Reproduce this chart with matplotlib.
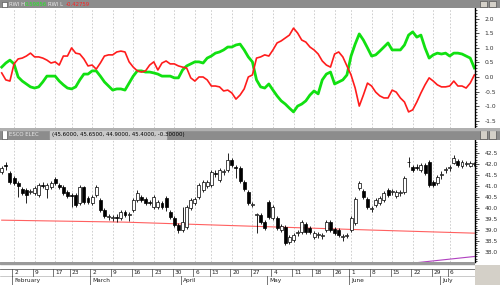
import numpy as np
import matplotlib
matplotlib.use("Agg")
from matplotlib import pyplot as plt
from matplotlib.ticker import MultipleLocator, FormatStrFormatter

# Random Walk Index, high and low
rwi_hi = [0.34, 0.48, 0.58, 0.45, 0.00, -0.14, -0.24, -0.34, -0.38, -0.34,
          -0.17, 0.03, 0.03, 0.03, -0.14, -0.27, -0.38, -0.41, -0.34, -0.10,
          0.10, 0.10, 0.21, 0.21, 0.03, -0.17, -0.31, -0.45, -0.41, -0.41,
          -0.45, -0.21, 0.03, 0.21, 0.21, 0.17, 0.17, 0.14, 0.10, 0.03,
          0.03, 0.03, -0.03, -0.03, 0.24, 0.38, 0.45, 0.52, 0.52, 0.48,
          0.65, 0.72, 0.82, 0.86, 0.93, 1.03, 1.03, 1.10, 1.13, 0.93,
          0.69, 0.52, -0.10, -0.34, -0.38, -0.24, -0.45, -0.65, -0.82, -0.93,
          -1.07, -1.20, -1.00, -0.93, -0.82, -0.62, -0.48, -0.58, -0.10, 0.10,
          0.17, -0.24, -0.17, -0.10, 0.07, 0.72, 1.13, 1.48, 1.27, 1.00,
          0.72, 0.76, 0.89, 1.03, 1.17, 0.93, 0.93, 0.93, 1.10, 1.44,
          1.55, 1.37, 1.44, 1.00, 0.65, 0.76, 0.82, 0.79, 0.82, 0.72,
          0.82, 0.82, 0.79, 0.72, 0.65, 0.31]
rwi_lo = [0.14, -0.10, -0.14, 0.45, 0.62, 0.65, 0.72, 0.82, 0.69, 0.69,
          0.65, 0.58, 0.48, 0.52, 0.41, 0.72, 0.72, 1.00, 0.82, 0.79,
          0.62, 0.38, 0.41, 0.27, 0.48, 0.72, 0.76, 0.76, 0.86, 0.89,
          0.86, 0.52, 0.34, 0.21, 0.17, 0.21, 0.41, 0.52, 0.24, 0.48,
          0.55, 0.45, 0.45, 0.38, 0.34, 0.31, -0.03, -0.14, 0.00, 0.00,
          -0.10, -0.31, -0.31, -0.34, -0.48, -0.45, -0.55, -0.76, -0.62, -0.41,
          0.00, 0.07, 0.65, 0.69, 0.76, 0.72, 0.93, 1.17, 1.24, 1.34,
          1.44, 1.68, 1.51, 1.27, 1.20, 1.03, 0.93, 0.79, 0.55, 0.41,
          0.34, 0.79, 0.86, 0.69, 0.38, 0.07, -0.38, -1.00, -0.62, -0.21,
          -0.31, -0.52, -0.65, -0.72, -0.72, -0.45, -0.52, -0.72, -0.86, -1.20,
          -1.13, -0.86, -0.55, -0.27, -0.03, -0.14, -0.27, -0.34, -0.34, -0.31,
          -0.14, -0.31, -0.31, -0.38, -0.21, 0.07]

# daily prices
opens = [41.64, 41.95, 41.59, 41.36, 41.14, 40.86, 40.82, 40.73, 40.68, 40.59,
         41.05, 40.86, 40.95, 41.32, 41.05, 40.95, 40.73, 40.59, 40.59, 40.23,
         40.95, 40.45, 40.23, 40.59, 40.36, 39.91, 39.59, 39.55, 39.59, 39.55,
         39.82, 39.68, 39.91, 40.36, 40.50, 40.41, 40.27, 40.05, 40.05, 40.23,
         40.45, 39.82, 39.55, 39.23, 39.00, 39.14, 40.00, 40.23, 40.50, 40.82,
         41.00, 41.05, 41.59, 41.27, 41.64, 41.73, 42.18, 41.86, 41.82, 41.18,
         40.73, 40.14, 39.68, 39.68, 39.36, 40.27, 39.55, 39.55, 39.00, 39.14,
         38.45, 38.55, 38.86, 38.91, 39.27, 39.09, 38.68, 38.77, 38.73, 39.00,
         39.36, 39.05, 39.00, 38.68, 38.73, 39.00, 39.32, 40.91, 40.77, 40.41,
         39.95, 40.14, 40.23, 40.36, 40.82, 40.73, 40.55, 40.68, 40.73, 42.09,
         41.86, 41.86, 41.73, 41.95, 42.09, 41.18, 41.14, 41.50, 41.73, 41.82,
         42.05, 42.14, 41.91, 42.00, 41.91, 42.00]
highs = [41.91, 42.09, 41.68, 41.45, 41.23, 40.95, 40.91, 40.86, 41.00, 41.14,
         41.18, 41.14, 41.23, 41.41, 41.14, 41.05, 40.82, 40.68, 40.68, 41.05,
         41.00, 40.55, 40.59, 41.05, 40.45, 40.00, 39.73, 39.68, 39.73, 39.91,
         39.91, 39.82, 40.45, 40.82, 40.59, 40.50, 40.36, 40.59, 40.36, 40.32,
         40.55, 39.91, 39.64, 39.32, 40.05, 40.14, 40.45, 40.50, 41.14, 41.27,
         41.27, 41.73, 41.73, 41.82, 41.77, 42.50, 42.27, 41.95, 41.91, 41.27,
         40.82, 40.27, 39.77, 39.77, 39.45, 40.36, 40.14, 39.64, 39.27, 39.23,
         38.77, 38.86, 39.00, 39.45, 39.36, 39.18, 38.95, 38.91, 38.86, 39.45,
         39.45, 39.14, 39.09, 38.82, 38.86, 39.64, 40.50, 41.23, 40.86, 40.50,
         40.09, 40.45, 40.55, 40.77, 40.91, 40.86, 40.82, 40.82, 41.45, 42.32,
         41.95, 42.00, 42.05, 42.05, 42.18, 41.27, 41.50, 41.68, 41.86, 41.95,
         42.41, 42.23, 42.18, 42.14, 42.14, 42.09]
lows = [41.55, 41.73, 41.09, 41.05, 40.50, 40.59, 40.23, 40.64, 40.59, 40.50,
        40.91, 40.45, 40.86, 41.05, 40.86, 40.59, 40.45, 40.05, 40.05, 40.14,
        40.18, 40.18, 40.14, 40.50, 39.82, 39.55, 39.45, 39.41, 39.36, 39.45,
        39.59, 39.41, 39.82, 40.27, 40.27, 40.14, 40.14, 39.95, 39.95, 39.95,
        39.86, 39.50, 39.14, 38.86, 38.91, 39.05, 39.91, 40.14, 40.41, 40.73,
        40.91, 40.95, 41.41, 41.18, 41.50, 41.64, 41.86, 41.36, 41.14, 40.77,
        40.14, 40.05, 38.86, 39.27, 39.00, 39.50, 39.45, 39.00, 38.91, 38.32,
        38.36, 38.45, 38.73, 38.82, 38.82, 38.82, 38.59, 38.64, 38.59, 38.91,
        38.91, 38.77, 38.68, 38.50, 38.64, 38.91, 39.23, 40.82, 40.41, 39.95,
        39.82, 40.05, 40.14, 40.27, 40.50, 40.59, 40.45, 40.55, 40.64, 41.86,
        41.64, 41.73, 41.64, 41.50, 40.95, 40.95, 41.05, 41.32, 41.59, 41.68,
        42.00, 41.86, 41.82, 41.91, 41.86, 41.91]
closes = [41.82, 41.91, 41.18, 41.14, 41.00, 40.68, 40.59, 40.77, 40.91, 41.05,
          41.00, 41.05, 41.14, 41.14, 40.95, 40.68, 40.55, 40.55, 40.14, 40.95,
          40.27, 40.27, 40.50, 40.95, 39.91, 39.64, 39.62, 39.57, 39.57, 39.82,
          39.68, 39.70, 40.36, 40.68, 40.36, 40.23, 40.25, 40.50, 40.27, 40.05,
          40.05, 39.59, 39.23, 39.00, 39.36, 40.05, 40.36, 40.41, 41.05, 41.18,
          41.18, 41.64, 41.55, 41.73, 41.66, 42.18, 41.95, 41.82, 41.23, 40.86,
          40.23, 40.18, 39.70, 39.36, 39.09, 39.59, 40.05, 39.09, 39.18, 38.41,
          38.68, 38.77, 38.88, 39.36, 38.91, 38.91, 38.86, 38.79, 38.75, 39.36,
          39.00, 38.86, 38.77, 38.70, 38.75, 39.55, 40.41, 41.14, 40.50, 40.05,
          39.97, 40.36, 40.45, 40.68, 40.59, 40.75, 40.73, 40.70, 41.36, 42.07,
          41.73, 41.84, 41.95, 41.59, 41.05, 41.05, 41.41, 41.52, 41.75, 41.84,
          42.27, 41.95, 42.09, 42.02, 42.05, 42.00]

# long moving average (red) and second average (purple)
ma_idx = [0, 30, 60, 90, 115]
ma_val = [39.45, 39.36, 39.18, 39.00, 38.86]
pur_idx = [101, 108, 115]
pur_val = [37.52, 37.66, 37.80]

week_pos = [3, 8, 13, 17, 22, 27, 32, 37, 42, 47, 51, 56, 61, 66, 71, 76, 81, 85, 90, 95, 100, 105, 109]
week_lab = ["2", "9", "17", "23", "2", "9", "16", "23", "30", "6", "13", "20",
            "27", "4", "11", "18", "26", "1", "8", "15", "22", "29", "6"]
month_pos = [3, 22, 44, 65, 85, 107]
month_lab = ["February", "March", "April", "May", "June", "July"]

W, H = 500, 285
XL = (-0.414, 115.16)
FS = 3.9


def box(x0, y0, x1, y1):
    return [x0 / W, 1 - y1 / H, (x1 - x0) / W, (y1 - y0) / H]


def style_right(ax, major, minor, fmt):
    for s in ["left", "top", "bottom"]:
        ax.spines[s].set_visible(False)
    ax.spines["right"].set_linewidth(1.0)
    ax.yaxis.tick_right()
    ax.yaxis.set_major_locator(MultipleLocator(major))
    ax.yaxis.set_minor_locator(MultipleLocator(minor))
    ax.yaxis.set_major_formatter(FormatStrFormatter(fmt))
    ax.tick_params(axis="y", which="major", length=3, width=0.6, labelsize=4.3, pad=4, colors="#303030")
    ax.tick_params(axis="y", which="minor", length=1.5, width=0.5)
    ax.set_xticks([])
    ax.set_xlim(*XL)
    for p in week_pos:
        ax.axvline(p, color="#c8c8c8", lw=0.6, ls=(0, (2, 2)), zorder=0)


def titlebar(y0, y1):
    tb = fig.add_axes(box(0, y0, 500, y1))
    tb.set_xlim(0, 500)
    tb.set_ylim(y1, y0)
    tb.axis("off")
    tb.add_patch(plt.Rectangle((0, y0), 500, y1 - y0, color="#8c8c8c"))
    tb.add_patch(plt.Rectangle((2, y0 + 1.5), 5, y1 - y0 - 3, fc="white", ec="#404040", lw=0.4))
    for bx in (480, 489):
        tb.add_patch(plt.Rectangle((bx, y0 + 1), 7, y1 - y0 - 2, fc="#d4d0c8", ec="#404040", lw=0.4))
    return tb


fig = plt.figure(figsize=(5, 2.85), dpi=100)
fig.patch.set_facecolor("white")

# top panel: RWI
ax1 = fig.add_axes(box(0, 8, 475, 128))
style_right(ax1, 0.5, 0.1, "%.1f")
ax1.set_ylim(-1.753, 2.371)
x = np.arange(len(rwi_hi))
ax1.plot(x, rwi_hi, color="#11e011", lw=2.0, solid_joinstyle="round")
ax1.plot(x, rwi_lo, color="#ff1c1c", lw=1.2)

tb1 = titlebar(0, 8)
tb1.text(9, 4.3, "RWI H", color="#e8e8e8", fontsize=FS, va="center")
tb1.text(25, 4.3, "0.59856", color="#22ee22", fontsize=FS, va="center")
tb1.text(48, 4.3, "RWI L", color="#e8e8e8", fontsize=FS, va="center")
tb1.text(66, 4.3, "-0.42759", color="#ff2020", fontsize=FS, va="center")

# bottom panel: candlesticks
ax2 = fig.add_axes(box(0, 140, 475, 262))
style_right(ax2, 0.5, 0.1, "%.1f")
ax2.set_ylim(37.55, 43.09)
ax2.set_yticks(np.arange(38.0, 42.51, 0.5))
o = np.array(opens)
c = np.array(closes)
xb = np.arange(len(opens))
ax2.vlines(xb, lows, highs, color="black", lw=0.6, zorder=2)
up = c >= o
body = np.abs(c - o)
ax2.bar(xb[up], np.maximum(body[up], 0.03), bottom=o[up], width=0.72,
        color="white", edgecolor="black", lw=0.5, zorder=3)
ax2.bar(xb[~up], np.maximum(body[~up], 0.03), bottom=c[~up], width=0.72,
        color="black", edgecolor="black", lw=0.5, zorder=3)
ax2.plot(ma_idx, ma_val, color="#ff6060", lw=0.8, zorder=1)
ax2.plot(pur_idx, pur_val, color="#b040c0", lw=0.8, zorder=1, clip_on=False)

tb2 = titlebar(128, 140)
tb2.add_patch(plt.Rectangle((0, 128), 500, 1.5, color="#b0b0b0"))
tb2.text(9, 134.8, "ESCO ELEC", color="#e8e8e8", fontsize=FS, va="center")
tb2.add_patch(plt.Rectangle((50, 130.5), 116, 8, color="#c8c8c8"))
tb2.text(52, 134.8, "(45.6000, 45.6500, 44.9000, 45.4000, -0.30000)", color="black", fontsize=FS, va="center")

# date axis
ax3 = fig.add_axes(box(0, 262, 475, 285))
ax3.set_xlim(*XL)
ax3.set_ylim(23, 0)
ax3.axis("off")
ax3.axhspan(0, 2, color="#9a9a9a")
ax3.axhline(6.5, color="#606060", lw=0.6)
ax3.axhline(13.5, color="#a0a0a0", lw=0.4)
for p, lab in zip(week_pos, week_lab):
    ax3.plot([p - 0.4, p - 0.4], [6.5, 13.5], color="#404040", lw=0.5)
    ax3.text(p + 0.1, 10.2, lab, fontsize=4.2, va="center", ha="left", color="#202020")
for p, lab in zip(month_pos, month_lab):
    ax3.plot([p - 0.4, p - 0.4], [13.5, 23], color="#404040", lw=0.5)
    ax3.text(p + 0.1, 18.3, lab, fontsize=4.2, va="center", ha="left", color="#202020")

corner = fig.add_axes(box(475, 265, 500, 285))
corner.axis("off")
corner.add_patch(plt.Rectangle((0, 0), 1, 1, transform=corner.transAxes, color="#d4d0c8"))

fig.savefig("out.png", dpi=100)
